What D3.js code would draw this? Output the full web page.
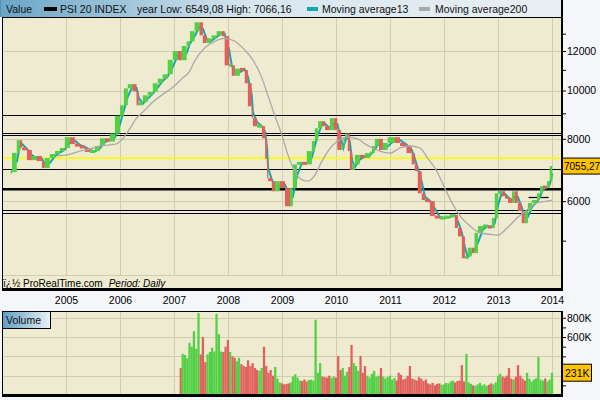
<!DOCTYPE html>
<html><head><meta charset="utf-8">
<script src="https://cdn.jsdelivr.net/npm/d3@7"></script>
<style>
html,body{margin:0;padding:0;background:#f4f6f9;}
svg{display:block;font-family:"Liberation Sans",Arial,sans-serif;}
</style></head><body>
<svg id="c" width="600" height="400"></svg>
<script>
// ---------------- DATA ----------------
const seriesName = "PSI 20 INDEX";
const yearInfo = "year Low: 6549,08 High: 7066,16";
const ma13Name = "Moving average13";
const ma200Name = "Moving average200";

const priceDates = [
"2004-01-02","2004-02-03","2004-02-24","2004-03-10","2004-04-12","2004-05-15","2004-06-17","2004-07-22","2004-08-10","2004-09-13","2004-10-19","2004-11-21","2004-12-24",
"2005-01-27","2005-03-02","2005-04-05","2005-05-09","2005-06-11","2005-07-16","2005-08-18","2005-09-21","2005-10-24","2005-11-28",
"2006-01-01","2006-01-27","2006-02-23","2006-03-28","2006-04-23","2006-05-08","2006-06-05","2006-07-08","2006-08-11","2006-09-13","2006-10-17","2006-11-20","2006-12-24",
"2007-01-27","2007-02-23","2007-03-28","2007-04-19","2007-05-21","2007-06-23","2007-07-16","2007-08-10","2007-09-13","2007-10-17","2007-11-20","2007-12-10",
"2008-01-10","2008-01-27","2008-02-17","2008-03-22","2008-04-24","2008-05-15","2008-06-10","2008-06-18","2008-07-16","2008-08-18","2008-09-09","2008-09-22","2008-09-29","2008-10-24","2008-11-14","2008-12-17",
"2009-01-21","2009-02-24","2009-03-15","2009-04-12","2009-05-15","2009-06-18","2009-07-22","2009-08-11","2009-09-02","2009-09-28","2009-10-19","2009-11-21","2009-12-17",
"2010-01-10","2010-02-05","2010-02-20","2010-03-03","2010-03-22","2010-04-05","2010-04-20","2010-05-09","2010-06-11","2010-07-16","2010-08-18","2010-09-01","2010-09-21","2010-10-19","2010-11-14","2010-12-17",
"2011-02-03","2011-03-10","2011-04-23","2011-05-28","2011-06-18","2011-07-08","2011-08-04","2011-08-26","2011-09-28","2011-10-31","2011-12-05",
"2012-01-07","2012-02-10","2012-03-15","2012-04-05","2012-05-01","2012-05-22","2012-06-10","2012-07-08","2012-07-26","2012-08-18","2012-09-21","2012-10-24","2012-11-20","2012-12-10",
"2013-01-01","2013-01-27","2013-02-17","2013-03-10","2013-04-05","2013-04-23","2013-05-15","2013-06-10","2013-07-01","2013-07-22","2013-08-18","2013-09-21","2013-10-12","2013-11-01","2013-11-28","2013-12-17","2014-01-03"];

const priceClose = [
6860,7500,7950,7680,7600,7250,7390,7220,6990,7320,7460,7560,7670,
8060,7810,7740,7670,7530,7560,7740,8020,7900,8200,
8900,9340,10100,10300,9960,9340,9480,9780,9930,10340,10560,10780,11520,
12000,11500,12280,12550,13150,13700,12900,12450,12720,12900,13150,12850,
11230,11230,10700,11060,10990,10340,9300,8800,8480,8480,8020,7300,6680,6580,6280,6580,
6370,5860,6370,7110,7180,7110,7560,7920,8400,8680,8480,8330,8800,
8330,7600,7740,8060,8200,7560,6930,7110,7430,7320,7490,7490,7740,8000,7600,7850,
8060,7850,7740,7490,7110,6890,6220,6030,6000,5600,5550,
5550,5600,5630,5300,5100,4610,4650,4840,4720,5180,5350,5350,5300,5550,
6220,6280,6140,6080,5950,6280,5950,5730,5420,5730,5950,6030,6220,6430,6370,6580,7055.27];

const ma200Dates = [
"2004-10-30","2005-01-08","2005-04-05","2005-06-11","2005-08-18","2005-10-24","2005-12-10",
"2006-01-22","2006-03-10","2006-04-23","2006-06-05","2006-08-11","2006-10-17","2006-12-24",
"2007-03-02","2007-04-19","2007-05-21","2007-07-27","2007-10-04","2007-12-10",
"2008-02-17","2008-04-24","2008-06-18","2008-08-18","2008-09-27","2008-11-14",
"2009-01-01","2009-02-10","2009-03-28","2009-05-21","2009-06-23","2009-08-11","2009-09-28","2009-12-05",
"2010-01-14","2010-03-22","2010-05-28","2010-07-27","2010-09-09","2010-10-24",
"2011-01-01","2011-03-10","2011-05-15","2011-07-22","2011-09-13","2011-11-14",
"2012-01-07","2012-03-03","2012-05-01","2012-06-25","2012-09-01","2012-11-07",
"2013-01-01","2013-03-03","2013-05-09","2013-07-16","2013-09-21","2013-11-28","2014-01-03"];
const ma200Values = [
7400,7430,7560,7630,7740,7780,7820,
8020,8400,8800,9050,9480,9820,10150,
10600,10950,11450,12170,12550,12720,
12550,12050,11520,10600,9780,8890,
8130,7430,6890,6610,6580,6770,7220,7740,
7920,8060,8000,7780,7670,7560,
7490,7670,7740,7670,7320,6890,
6370,5900,5550,5350,5180,5150,
5130,5300,5550,5760,5950,6000,6030];

// support / resistance levels drawn on the chart
const levelValues = [8929, 8213, 8137, 6956, 5769, 5677];
const strongLevel = 6340;
const yellowLevel = 7319;
const shortLevel = {from:"2013-07-27", to:"2013-12-09", value:6111};

// volume, in thousands, semi-monthly (1st and 16th) from 2007-02-16
const volumeStart = "2007-02-16";
const volumeEnd = "2014-01-01";
const volume = [
280,425,415,380,540,500,660,480,850,420,600,340,420,445,490,450,840,630,450,445,500,
570,445,400,385,350,385,320,300,290,360,300,330,280,260,250,280,500,300,230,260,200,290,170,130,
120,110,115,120,130,190,215,180,150,145,160,140,155,160,150,780,230,330,190,185,180,200,175,190,
180,405,260,280,200,240,290,520,330,300,250,405,230,300,200,180,220,250,190,200,280,190,170,185,
200,160,175,150,230,210,160,170,200,300,170,160,150,185,170,145,160,120,110,125,100,115,120,105,
110,125,120,140,150,130,145,150,310,140,425,130,115,100,95,110,125,100,110,95,105,120,110,130,
200,220,190,180,200,280,170,160,190,310,200,170,150,230,170,140,160,175,395,160,150,170,140,160,
231];
const lastVolumeLabel = "231K";
const lastPriceLabel = "7055,27";

const years = ["2005","2006","2007","2008","2009","2010","2011","2012","2013","2014"];
const priceTicks = [5000,6000,7000,8000,9000,10000,11000,12000,13000];
const priceTickLabels = [6000,8000,10000,12000];
const volTicks = [100,200,300,400,500,600,700,800];
const volTickLabels = [600,800];
const volGrid = [200,400,600,800];
const footerSite = "ï¿½ ProRealTime.com";
const footerPeriod = "Period: Daily";

// ---------------- CHART ----------------
const parse = d3.timeParse("%Y-%m-%d");
const svg = d3.select("#c");
const L = 2, R = 561, T = 17, B = 289, FOOT = 275;
const VT = 311, VB = 395;

const x = d3.scaleTime().domain([new Date(2005,0,1), new Date(2014,0,1)]).range([66,552]);
const y = d3.scaleLog().domain([4000,13975]).range([B,18]);
const yv = d3.scaleLinear().domain([0,870]).range([VB,VT]);

const RED = "#e0605c", GREEN = "#52d046", TEAL = "#16a6ad", GRAY = "#a9a9a9";
const BG = "#efebd0", GRID = "#d3cdb0";
const MIN_BODY = 3;

const defs = svg.append("defs");
const g1 = defs.append("linearGradient").attr("id","hdr").attr("x1","0").attr("x2","1");
g1.append("stop").attr("offset","0").attr("stop-color","#6aa5c7");
g1.append("stop").attr("offset","0.45").attr("stop-color","#d8e6ee");
g1.append("stop").attr("offset","1").attr("stop-color","#e8eff3");
const g2 = defs.append("linearGradient").attr("id","vhdr").attr("x1","0").attr("x2","1");
g2.append("stop").attr("offset","0").attr("stop-color","#5f9ec3");
g2.append("stop").attr("offset","1").attr("stop-color","#eaf1f5");
defs.append("clipPath").attr("id","pclip").append("rect").attr("x",L).attr("y",T).attr("width",R-L).attr("height",B-T);
defs.append("clipPath").attr("id","vclip").append("rect").attr("x",L).attr("y",VT).attr("width",R-L).attr("height",VB-VT);

// page background
svg.append("rect").attr("width",600).attr("height",400).attr("fill","#f4f6f9");

// ---- main panel ----
svg.append("rect").attr("x",L).attr("y",T).attr("width",R-L).attr("height",B-T).attr("fill",BG);
const grid = svg.append("g").attr("stroke",GRID).attr("stroke-width",1).attr("shape-rendering","crispEdges");
grid.selectAll(".hg").data(priceTickLabels).join("line")
  .attr("x1",L).attr("x2",R).attr("y1",d=>Math.round(y(d))+0.5).attr("y2",d=>Math.round(y(d))+0.5);
grid.selectAll(".vg").data(years).join("line")
  .attr("x1",d=>Math.round(x(new Date(+d,0,1)))+0.5).attr("x2",d=>Math.round(x(new Date(+d,0,1)))+0.5)
  .attr("y1",T).attr("y2",FOOT);
grid.append("line").attr("x1",L).attr("x2",R).attr("y1",FOOT+0.5).attr("y2",FOOT+0.5);

const plot = svg.append("g").attr("clip-path","url(#pclip)");

// levels
plot.selectAll(".lvl").data(levelValues).join("line")
  .attr("x1",L).attr("x2",R).attr("y1",d=>Math.round(y(d))+0.5).attr("y2",d=>Math.round(y(d))+0.5)
  .attr("stroke","#000").attr("stroke-width",1.2);
plot.append("line").attr("x1",L).attr("x2",R).attr("y1",y(strongLevel)).attr("y2",y(strongLevel))
  .attr("stroke","#000").attr("stroke-width",2.6);
plot.append("line").attr("x1",L).attr("x2",R).attr("y1",y(yellowLevel)).attr("y2",y(yellowLevel))
  .attr("stroke","#ffff00").attr("stroke-width",1.8);
plot.append("line").attr("x1",x(parse(shortLevel.from))).attr("x2",x(parse(shortLevel.to)))
  .attr("y1",Math.round(y(shortLevel.value))+0.5).attr("y2",Math.round(y(shortLevel.value))+0.5)
  .attr("stroke","#000").attr("stroke-width",1.2);

// price data
const prices = priceDates.map((d,i)=>({date:parse(d), close:priceClose[i], open: i ? priceClose[i-1] : priceClose[i]}));

// MA13 (rolling mean of consecutive closes)
const ma13 = prices.slice(1).map((p,i)=>({date:p.date, v:d3.mean([prices[i].close, p.close])}));
plot.append("path").datum(ma13)
  .attr("d", d3.line().x(d=>x(d.date)).y(d=>y(d.v)))
  .attr("fill","none").attr("stroke",TEAL).attr("stroke-width",2);

// candles
function bodyTop(d){ const t=y(Math.max(d.open,d.close)), b=y(Math.min(d.open,d.close)); return (b-t<MIN_BODY)? (t+b)/2-MIN_BODY/2 : t; }
function bodyH(d){ const t=y(Math.max(d.open,d.close)), b=y(Math.min(d.open,d.close)); return Math.max(MIN_BODY, b-t); }
plot.selectAll(".cdl").data(prices).join("rect")
  .attr("x",(d,i)=> i ? x(prices[i-1].date) : x(d.date)-1.5)
  .attr("width",(d,i)=> i ? Math.max(1.2, x(d.date)-x(prices[i-1].date)) : 1.5)
  .attr("y",bodyTop)
  .attr("height",bodyH)
  .attr("fill",d=> d.close>=d.open ? GREEN : RED);

// MA200
const ma200 = ma200Dates.map((d,i)=>({date:parse(d), v:ma200Values[i]}));
plot.append("path").datum(ma200)
  .attr("d", d3.line().x(d=>x(d.date)).y(d=>y(d.v)).curve(d3.curveMonotoneX))
  .attr("fill","none").attr("stroke",GRAY).attr("stroke-width",1.3);

// borders main
const bd = svg.append("g").attr("shape-rendering","crispEdges");
bd.append("line").attr("x1",L+0.5).attr("x2",L+0.5).attr("y1",T).attr("y2",B+1).attr("stroke","#000");
bd.append("rect").attr("x",L).attr("y",B-1).attr("width",R-L+2).attr("height",3).attr("fill","#000");
bd.append("rect").attr("x",R).attr("y",0).attr("width",2).attr("height",B+2).attr("fill","#000");

// header
svg.append("rect").attr("x",1).attr("y",0).attr("width",R-1).attr("height",T).attr("fill","url(#hdr)");
bd.append("rect").attr("x",L).attr("y",T).attr("width",R-L).attr("height",1).attr("fill","#000");
bd.append("line").attr("x1",0.5).attr("x2",0.5).attr("y1",0).attr("y2",T).attr("stroke","#5a8fb0");
const hdr = svg.append("g").attr("font-size","10.5px").attr("fill","#111");
hdr.append("text").attr("x",6).attr("y",13).text("Value");
hdr.append("rect").attr("x",44).attr("y",7).attr("width",13).attr("height",4).attr("fill","#000");
hdr.append("text").attr("x",60).attr("y",13).text(seriesName);
hdr.append("text").attr("x",137).attr("y",13).text(yearInfo);
hdr.append("rect").attr("x",307).attr("y",7).attr("width",11).attr("height",4).attr("fill",TEAL);
hdr.append("text").attr("x",322).attr("y",13).text(ma13Name);
hdr.append("rect").attr("x",419).attr("y",7).attr("width",11).attr("height",4).attr("fill",GRAY);
hdr.append("text").attr("x",435).attr("y",13).text(ma200Name);

// right price axis
const ay = svg.append("g").attr("transform",`translate(${R+1},0)`)
  .call(d3.axisRight(y).tickValues(priceTicks).tickSize(4).tickPadding(1)
    .tickFormat(d=>priceTickLabels.includes(d) ? String(d) : ""));
ay.select(".domain").remove();
ay.selectAll("line").attr("stroke","#000");
ay.selectAll("text").attr("font-size","10.5px").attr("font-family","Liberation Sans, Arial, sans-serif").attr("fill","#000");

// last price box
const lp = y(priceClose[priceClose.length-1]);
svg.append("rect").attr("x",R+1.5).attr("y",lp-8).attr("width",40).attr("height",16)
  .attr("fill","#ffc400").attr("stroke","#000").attr("stroke-width",1);
svg.append("text").attr("x",R+3).attr("y",lp+4).attr("font-size","10px").attr("fill","#000").text(lastPriceLabel);

// x axis labels
const ax = svg.append("g").attr("transform",`translate(0,294)`)
  .call(d3.axisBottom(x).tickValues(years.map(d=>new Date(+d,0,1))).tickSize(0).tickPadding(3)
    .tickFormat(d3.timeFormat("%Y")));
ax.select(".domain").remove();
ax.selectAll("text").attr("font-size","10.5px").attr("font-family","Liberation Sans, Arial, sans-serif").attr("fill","#000");

// footer
const ft = svg.append("text").attr("x",3).attr("y",287).attr("font-size","10px").attr("fill","#000");
ft.append("tspan").text(footerSite);
ft.append("tspan").attr("dx",6).attr("font-style","italic").text(footerPeriod);

// ---- volume panel ----
svg.append("rect").attr("x",L).attr("y",VT).attr("width",R-L).attr("height",VB-VT).attr("fill",BG);
const vgrid = svg.append("g").attr("stroke",GRID).attr("shape-rendering","crispEdges");
vgrid.selectAll(".h").data(volGrid).join("line")
  .attr("x1",L).attr("x2",R).attr("y1",d=>Math.round(yv(d))+0.5).attr("y2",d=>Math.round(yv(d))+0.5);
vgrid.selectAll(".v").data(years).join("line")
  .attr("x1",d=>Math.round(x(new Date(+d,0,1)))+0.5).attr("x2",d=>Math.round(x(new Date(+d,0,1)))+0.5)
  .attr("y1",VT).attr("y2",VB);

// volume dates: 1st and 16th of each month
const vStart = parse(volumeStart), vEnd = parse(volumeEnd);
const vDates = [];
d3.timeMonth.range(d3.timeMonth.floor(vStart), d3.timeMonth.offset(vEnd,1)).forEach(m=>{
  [m, d3.timeDay.offset(m,15)].forEach(d=>{ if (d>=vStart && d<=vEnd) vDates.push(d); });
});
const bis = d3.bisector(d=>d.date).left;
const vols = vDates.map((d,i)=>{
  let k = Math.min(prices.length-1, bis(prices, d));
  const p = prices[k];
  return {date:d, v:volume[i], up: p.close>=p.open};
});
const vp = svg.append("g").attr("clip-path","url(#vclip)");
vp.selectAll("rect").data(vols).join("rect")
  .attr("x",d=>x(d.date)-1.1).attr("width",2.25)
  .attr("y",d=>yv(d.v)).attr("height",d=>VB-yv(d.v))
  .attr("fill",d=>d.up ? GREEN : RED);

// volume borders
const vb = svg.append("g").attr("shape-rendering","crispEdges");
vb.append("rect").attr("x",L).attr("y",VT).attr("width",R-L).attr("height",1).attr("fill","#000");
vb.append("line").attr("x1",L+0.5).attr("x2",L+0.5).attr("y1",VT).attr("y2",VB).attr("stroke","#000");
vb.append("rect").attr("x",L).attr("y",VB-1).attr("width",R-L+2).attr("height",3).attr("fill","#000");
vb.append("rect").attr("x",R).attr("y",VT).attr("width",2).attr("height",VB-VT+2).attr("fill","#000");

// volume label box
svg.append("rect").attr("x",L+0.5).attr("y",VT+0.5).attr("width",48).attr("height",17)
  .attr("fill","url(#vhdr)").attr("stroke","#000").attr("stroke-width",1);
svg.append("text").attr("x",6).attr("y",VT+13).attr("font-size","10.5px").attr("fill","#111").text("Volume");

// volume axis
const avy = svg.append("g").attr("transform",`translate(${R+1},0)`)
  .call(d3.axisRight(yv).tickValues(volTicks).tickSize(4).tickPadding(1)
    .tickFormat(d=>volTickLabels.includes(d) ? d+"K" : ""));
avy.select(".domain").remove();
avy.selectAll("line").attr("stroke","#000");
avy.selectAll("text").attr("font-size","10.5px").attr("font-family","Liberation Sans, Arial, sans-serif").attr("fill","#000");

const lv = yv(volume[volume.length-1]);
svg.append("rect").attr("x",R+1.5).attr("y",lv-8.5).attr("width",29).attr("height",17)
  .attr("fill","#ffc400").attr("stroke","#000").attr("stroke-width",1);
svg.append("text").attr("x",R+4).attr("y",lv+4).attr("font-size","10.5px").attr("fill","#000").text(lastVolumeLabel);
</script>
</body></html>
